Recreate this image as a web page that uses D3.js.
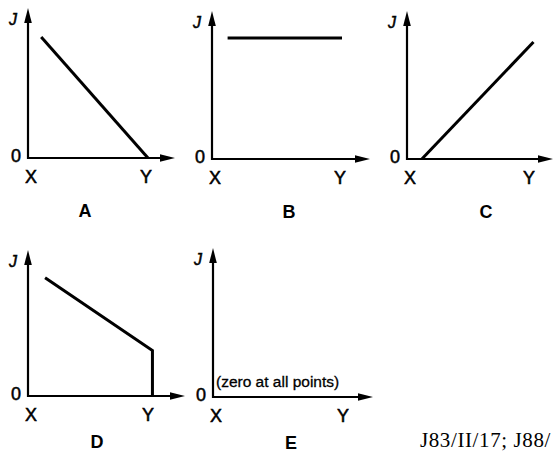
<!DOCTYPE html>
<html><head><meta charset="utf-8">
<script src="https://cdn.jsdelivr.net/npm/d3@7"></script>
<style>body{margin:0;background:#fff}svg{display:block}</style>
</head><body>
<svg id="c" width="558" height="455"></svg>
<script>
// ---- data ----
const panels = ["A", "B", "C", "D", "E"];
const seriesA = [[0.11, 0.93], [1.0, 0]];
const seriesB = [[0.12, 0.93], [1.0, 0.93]];
const seriesC = [[0.12, 0], [1.02, 0.9]];
const seriesD = [[0.14, 0.91], [1.02, 0.35], [1.02, 0]];
const seriesE = [];
const series = [seriesA, seriesB, seriesC, seriesD, seriesE];
const axisLabels = {y: "J", origin: "0", x0: "X", x1: "Y"};
const note = "(zero at all points)";
const footer = "J83/II/17; J88/";

// ---- layout ----
const layout = [
  {ox: 28,  oy: 158, w: 120, tip: 175, top: 8,   tx: 85},
  {ox: 212, oy: 159, w: 130, tip: 370, top: 11,  tx: 289},
  {ox: 407, oy: 159, w: 124, tip: 553, top: 11,  tx: 486},
  {ox: 28,  oy: 396, w: 122, tip: 185, top: 250, tx: 97},
  {ox: 213, oy: 397, w: 132, tip: 373, top: 248, tx: 291}
];
const H = 130;

const svg = d3.select("#c");
const font = "'Liberation Sans', Arial, Helvetica, sans-serif";

panels.forEach((name, i) => {
  const L = layout[i];
  const x = d3.scaleLinear().domain([0, 1]).range([L.ox, L.ox + L.w]);
  const y = d3.scaleLinear().domain([0, 1]).range([L.oy, L.oy - H]);
  const g = svg.append("g");

  // axes
  g.append("line").attr("x1", L.ox).attr("y1", L.oy + 1).attr("x2", L.ox).attr("y2", L.top + 10)
    .attr("stroke", "#000").attr("stroke-width", 2.2);
  g.append("line").attr("x1", L.ox - 1).attr("y1", L.oy).attr("x2", L.tip - 10).attr("y2", L.oy)
    .attr("stroke", "#000").attr("stroke-width", 2.2);
  // arrowheads
  g.append("path").attr("d", `M${L.ox},${L.top} L${L.ox - 3.8},${L.top + 15} L${L.ox + 3.8},${L.top + 15} Z`).attr("fill", "#000");
  g.append("path").attr("d", `M${L.tip},${L.oy} L${L.tip - 15},${L.oy - 3.8} L${L.tip - 15},${L.oy + 3.8} Z`).attr("fill", "#000");

  // series
  if (series[i].length) {
    g.append("path").datum(series[i])
      .attr("d", d3.line().x(d => x(d[0])).y(d => y(d[1])))
      .attr("fill", "none").attr("stroke", "#000").attr("stroke-width", 3)
      .attr("stroke-linejoin", "miter");
  }

  const txt = (t, tx, ty, size, opts = {}) => g.append("text").text(t)
    .attr("x", tx).attr("y", ty).attr("text-anchor", opts.anchor || "middle")
    .attr("font-family", opts.family || font).attr("font-size", size)
    .attr("font-weight", opts.weight || "normal").attr("font-style", opts.style || "normal")
    .attr("stroke", "#000").attr("stroke-width", opts.sw == null ? 0.5 : opts.sw)
    .attr("fill", "#000");

  txt(axisLabels.y, L.ox - 15, L.top + 17, 16, {style: "italic"});
  txt(axisLabels.origin, L.ox - 12, L.oy + 4, 18);
  txt(axisLabels.x0, L.ox + 3, L.oy + 25, 18);
  txt(axisLabels.x1, x(1) - 2, L.oy + 25, 18);
  txt(name, L.tx, L.oy + 53 + (i >= 3 ? -1 : 6), 18, {weight: "bold", sw: 0});

  if (i === 4) {
    txt(note, L.ox + 3, L.oy - 10, 15.5, {anchor: "start", sw: 0.3});
  }
});

svg.append("text").text(footer).attr("x", 420).attr("y", 447)
  .attr("font-family", "'Liberation Serif', 'Times New Roman', serif").attr("font-size", 21)
  .attr("letter-spacing", 0.6)
  .attr("fill", "#000");
</script>
</body></html>
